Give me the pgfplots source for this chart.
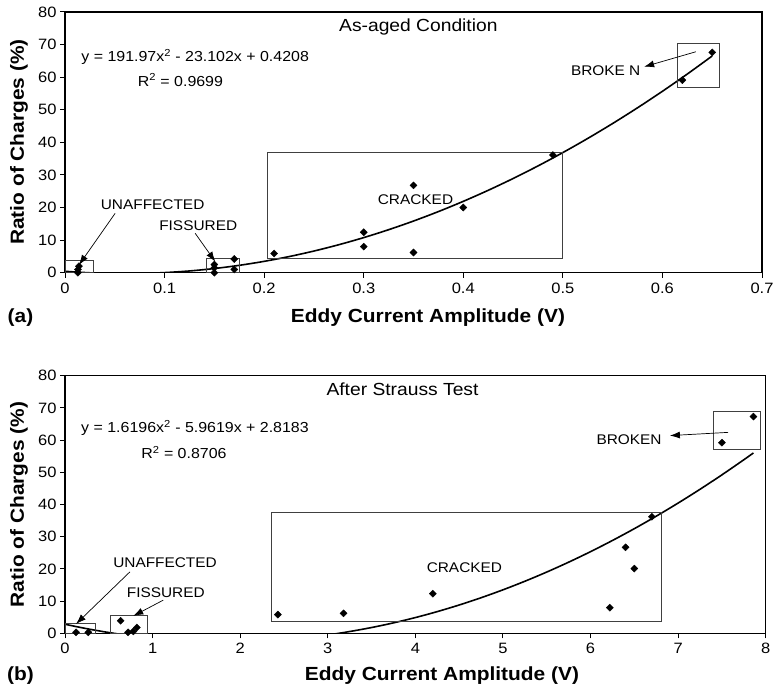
\documentclass[border=0pt]{standalone}
\usepackage{fontspec}
\setmainfont[FakeStretch=1.1]{Liberation Sans}
\usepackage{pgfplots}
\pgfplotsset{compat=1.18}
\usetikzlibrary{arrows.meta}
\pgfplotsset{
  chartstyle/.style={
    scale only axis, anchor=south west,
    axis line style={line width=1.4pt},
    tick style={black, line width=1pt},
    tick align=outside, major tick length=5pt,
    xtick pos=bottom, ytick pos=left,
    tick label style={font=\fontsize{15}{15}\selectfont},
    xticklabel style={yshift=-1.5pt},
    /pgf/number format/assume math mode=true,
    ymin=0, ymax=80, ytick={0,10,20,30,40,50,60,70,80},
    clip=true,
  },
  dots/.style={only marks, mark=square*, mark size=2.5pt, mark options={rotate=45, fill=black, draw=black}},
  fit/.style={black, line width=1.6pt, smooth, no marks},
}
\tikzset{
  boxst/.style={draw=black!75, line width=0.8pt},
  arr/.style={-{Latex[length=10pt,width=7pt]}, line width=0.7pt, black},
  ann/.style={font=\fontsize{14}{14}\selectfont, inner sep=0pt},
}
\begin{document}
\begin{tikzpicture}[x=1pt,y=1pt]
\useasboundingbox (0,0) rectangle (776,690);
% ---------- (a) ----------
\begin{axis}[chartstyle, at={(65pt,417.3pt)}, width=697pt, height=260.7pt,
  xmin=0, xmax=0.7, xtick={0,0.1,0.2,0.3,0.4,0.5,0.6,0.7}]
\addplot[fit] coordinates {(0,0.4208) (0.025,-0.0368) (0.05,-0.2544) (0.075,-0.2320) (0.1,0.0303) (0.125,0.5326) (0.15,1.2748) (0.175,2.2570) (0.2,3.4792) (0.225,4.9413) (0.25,6.6434) (0.275,8.5855) (0.3,10.7675) (0.325,13.1895) (0.35,15.8514) (0.375,18.7533) (0.4,21.8952) (0.425,25.2770) (0.45,28.8988) (0.475,32.7606) (0.5,36.8623) (0.525,41.2040) (0.55,45.7856) (0.575,50.6072) (0.6,55.6688) (0.625,60.9703) (0.65,66.5118)};
\addplot[dots] coordinates {(0.013,0) (0.013,1.0) (0.014,2.0) (0.15,0) (0.15,1.5) (0.15,2.5) (0.17,1.0) (0.17,4.2) (0.21,5.9) (0.30,12.4) (0.30,8.0) (0.35,26.8) (0.35,6.2) (0.40,20.0) (0.49,36.1) (0.62,59.1) (0.65,67.6)};
\draw[boxst] (axis cs:0,0) rectangle (axis cs:0.029,3.7);
\draw[boxst] (axis cs:0.142,0) rectangle (axis cs:0.175,4.4);
\draw[boxst] (axis cs:0.203,4.4) rectangle (axis cs:0.4995,36.8);
\draw[boxst] (axis cs:0.6154,56.9) rectangle (axis cs:0.657,70.4);
\node[font=\fontsize{17.5}{17.5}\selectfont] at (axis cs:0.3549,75.4) {As-aged Condition};
\node[font=\fontsize{14.5}{14.5}\selectfont] at (axis cs:0.1307,66.2) {y = 191.97x\textsuperscript{2} - 23.102x + 0.4208};
\node[font=\fontsize{14.5}{14.5}\selectfont] at (axis cs:0.1159,59.1) {R\textsuperscript{2} = 0.9699};
\node[ann] at (axis cs:0.543,62.1) {BROKE N};
\draw[arr] (axis cs:0.6336,67.8) -- (axis cs:0.5816,63.2);
\node[ann] at (axis cs:0.352,22.3) {CRACKED};
\node[ann] at (axis cs:0.088,20.8) {UNAFFECTED};
\draw[arr] (axis cs:0.0503,18.2) -- (axis cs:0.0141,2.4);
\node[ann] at (axis cs:0.1338,14.3) {FISSURED};
\draw[arr] (axis cs:0.1307,12.1) -- (axis cs:0.1509,3.4);
\end{axis}
% ---------- (b) ----------
\begin{axis}[chartstyle, at={(65pt,56.7pt)}, width=700.7pt, height=257.6pt,
  xmin=0, xmax=8, xtick={0,1,2,3,4,5,6,7,8}]
\addplot[fit] coordinates {(0,2.8183) (0.1,2.2383) (0.2,1.6907) (0.3,1.1755) (0.4,0.6927) (0.5,0.2423) (0.6,-0.1758) (0.7,-0.5614) (1,-1.524) (1.5,-2.4805) (2,-2.6271) (2.5,-1.964) (3,-0.491) (3.25,0.5492) (3.5,1.7918) (3.75,3.2368) (4,4.8843) (4.25,6.7343) (4.5,8.7867) (4.75,11.0415) (5,13.4988) (5.25,16.1586) (5.5,19.0208) (5.75,22.0854) (6,25.3525) (6.25,28.8221) (6.5,32.4941) (6.75,36.3685) (7,40.4454) (7.25,44.7248) (7.5,49.2066) (7.75,53.8908) (7.86,56.016)};
\addplot[dots] coordinates {(0.126,0.3) (0.266,0.3) (0.635,3.9) (0.72,0.3) (0.78,0.6) (0.82,1.8) (2.43,5.8) (3.18,6.2) (4.2,12.3) (6.22,7.95) (6.4,26.7) (6.5,20.1) (6.7,36.2) (7.5,59.2) (7.86,67.3)};
\draw[boxst] (axis cs:0,0) rectangle (axis cs:0.35,3.1);
\draw[boxst] (axis cs:0.514,0) rectangle (axis cs:0.94,5.7);
\draw[boxst] (axis cs:2.352,3.6) rectangle (axis cs:6.81,37.6);
\draw[boxst] (axis cs:7.40,57.2) rectangle (axis cs:7.945,68.8);
\node[font=\fontsize{17.5}{17.5}\selectfont] at (axis cs:3.853,75.8) {After Strauss Test};
\node[font=\fontsize{14.5}{14.5}\selectfont] at (axis cs:1.484,63.7) {y = 1.6196x\textsuperscript{2} - 5.9619x + 2.8183};
\node[font=\fontsize{14.5}{14.5}\selectfont] at (axis cs:1.358,56.2) {R\textsuperscript{2} = 0.8706};
\node[ann] at (axis cs:6.44,60.0) {BROKEN};
\draw[arr] (axis cs:7.572,62.4) -- (axis cs:6.906,61.4);
\node[ann] at (axis cs:4.56,20.5) {CRACKED};
\node[ann] at (axis cs:1.142,22.0) {UNAFFECTED};
\draw[arr] (axis cs:0.742,19.1) -- (axis cs:0.126,2.9);
\node[ann] at (axis cs:1.151,12.6) {FISSURED};
\draw[arr] (axis cs:1.122,10.3) -- (axis cs:0.78,5.4);
\end{axis}
% ---------- outer labels ----------
\node[font=\bfseries\fontsize{19}{19}\selectfont] at (428,372) {Eddy Current Amplitude (V)};
\node[font=\bfseries\fontsize{19}{19}\selectfont] at (442,14) {Eddy Current Amplitude (V)};
\node[font=\bfseries\fontsize{19}{19}\selectfont] at (20.5,372) {(a)};
\node[font=\bfseries\fontsize{19}{19}\selectfont] at (20.5,14) {(b)};
\node[font=\bfseries\fontsize{19}{19}\selectfont, rotate=90] at (19,548) {Ratio of Charges (\%)};
\node[font=\bfseries\fontsize{19}{19}\selectfont, rotate=90] at (19,185.5) {Ratio of Charges (\%)};
\end{tikzpicture}
\end{document}
